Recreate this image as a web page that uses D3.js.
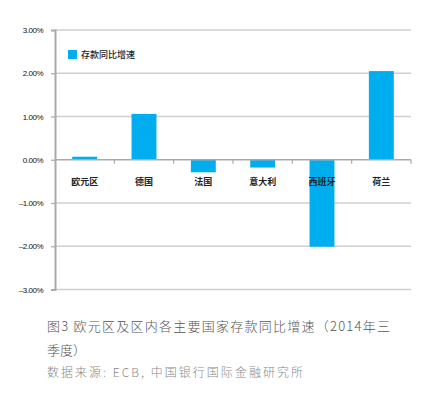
<!DOCTYPE html>
<html>
<head>
<meta charset="utf-8">
<script src="https://cdn.jsdelivr.net/npm/d3@7"></script>
<style>
  body { margin: 0; background: #fff; }
  svg { display: block; }
</style>
</head>
<body>
<svg id="grafico"></svg>
<script>
const ancho = 438;
const alto = 397;

const paises = ["欧元区", "德国", "法国", "意大利", "西班牙", "荷兰"];
const crecimiento = [0.07, 1.06, -0.29, -0.18, -2.01, 2.05];
const ticksY = [3, 2, 1, 0, -1, -2, -3];
const serie = "存款同比增速";
const tituloL1 = "图3  欧元区及区内各主要国家存款同比增速（2014年三";
const tituloL2 = "季度）";
const fuente = "数据来源: ECB, 中国银行国际金融研究所";

const fuenteTxt = "'Noto Sans CJK SC', 'Noto Sans', sans-serif";
const azul = "#00aeef";

const svg = d3.select("#grafico").attr("width", ancho).attr("height", alto);

const x = d3.scaleBand().domain(paises).range([55, 411]).paddingInner(0.58).paddingOuter(0.29);
const y = d3.scaleLinear().domain([-3, 3]).range([289.5, 30]);

// rejilla
svg.append("g")
  .selectAll("line")
  .data(ticksY.filter(d => d !== 0))
  .join("line")
  .attr("x1", 55).attr("x2", 411)
  .attr("y1", d => y(d)).attr("y2", d => y(d))
  .attr("stroke", "#cfcfcf")
  .attr("stroke-width", 1.4);

// eje Y
const ejeY = svg.append("g")
  .attr("transform", "translate(55,0)")
  .call(d3.axisLeft(y).tickValues(ticksY).tickSize(4).tickPadding(8)
    .tickFormat(d => (d < 0 ? "–" : "") + Math.abs(d).toFixed(2) + "%"));
ejeY.select(".domain").attr("stroke", "#aaa").attr("stroke-width", 2);
ejeY.selectAll(".tick line").attr("stroke", "#aaa").attr("stroke-width", 1.2);
ejeY.selectAll(".tick text")
  .attr("fill", "#111")
  .attr("font-family", "'Liberation Sans', Arial, sans-serif")
  .attr("font-size", 8)
  .attr("letter-spacing", -0.5);

// barras
svg.append("g")
  .selectAll("rect")
  .data(crecimiento)
  .join("rect")
  .attr("x", (d, i) => x(paises[i]))
  .attr("width", x.bandwidth())
  .attr("y", d => y(Math.max(0, d)))
  .attr("height", d => Math.abs(y(d) - y(0)))
  .attr("fill", azul);

// eje cero
svg.append("line")
  .attr("x1", 55).attr("x2", 411)
  .attr("y1", y(0)).attr("y2", y(0))
  .attr("stroke", "#aaa").attr("stroke-width", 1.6);

const paso = x.step();
svg.append("g")
  .selectAll("line")
  .data(paises)
  .join("line")
  .attr("x1", d => x(d) - x.step() * x.paddingOuter() + paso)
  .attr("x2", d => x(d) - x.step() * x.paddingOuter() + paso)
  .attr("y1", y(0)).attr("y2", y(0) + 4)
  .attr("stroke", "#aaa").attr("stroke-width", 1.2);

// etiquetas de categoría
svg.append("g")
  .selectAll("text")
  .data(paises)
  .join("text")
  .attr("x", d => x(d) + x.bandwidth() / 2)
  .attr("y", 185)
  .attr("text-anchor", "middle")
  .attr("font-family", fuenteTxt)
  .attr("font-size", 9)
  .attr("font-weight", 700)
  .attr("fill", "#222")
  .text(d => d);

// leyenda
svg.append("rect")
  .attr("x", 68).attr("y", 50).attr("width", 9).attr("height", 9)
  .attr("fill", azul);
svg.append("text")
  .attr("x", 81).attr("y", 58)
  .attr("font-family", fuenteTxt)
  .attr("font-size", 9)
  .attr("font-weight", 500)
  .attr("fill", "#222")
  .text(serie);

// título y fuente
svg.append("text")
  .attr("x", 47).attr("y", 331)
  .attr("font-family", fuenteTxt)
  .attr("font-size", 13)
  .attr("font-weight", 300)
  .attr("fill", "#555")
  .attr("textLength", 343)
  .attr("lengthAdjust", "spacing")
  .text(tituloL1);
svg.append("text")
  .attr("x", 47).attr("y", 355)
  .attr("font-family", fuenteTxt)
  .attr("font-size", 13)
  .attr("font-weight", 300)
  .attr("fill", "#555")
  .text(tituloL2);
svg.append("text")
  .attr("x", 47).attr("y", 377)
  .attr("font-family", fuenteTxt)
  .attr("font-size", 12)
  .attr("font-weight", 300)
  .attr("fill", "#888")
  .attr("textLength", 256)
  .attr("lengthAdjust", "spacing")
  .text(fuente);
</script>
</body>
</html>
